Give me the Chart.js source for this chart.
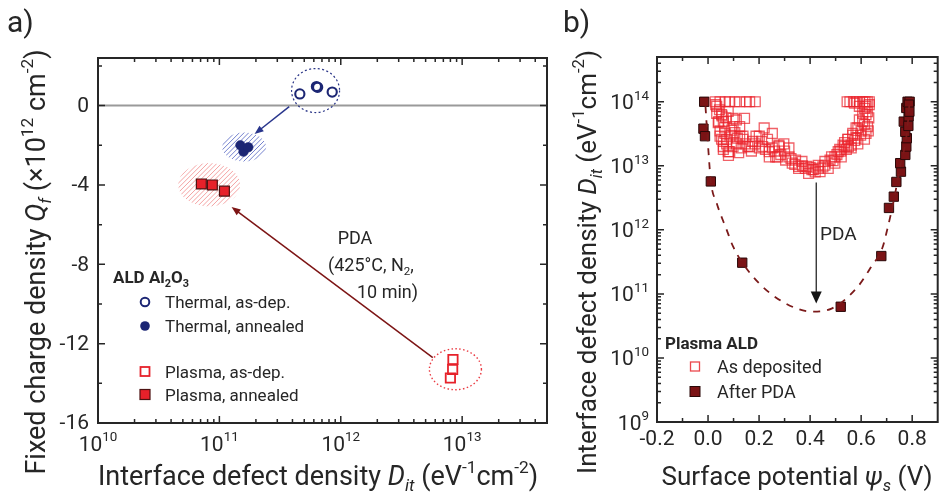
<!DOCTYPE html>
<html>
<head>
<meta charset="utf-8">
<script src="https://cdn.jsdelivr.net/npm/chart.js@4"></script>
<style>
  body { margin: 0; background: #fff; }
  #wrap { position: relative; width: 946px; height: 499px; }
  canvas { position: absolute; top: 0; }
</style>
</head>
<body>
<div id="wrap">
  <canvas id="chartA" width="560" height="499" style="left:0"></canvas>
  <canvas id="chartB" width="386" height="499" style="left:560px"></canvas>
</div>
<script>
// ---- panel a: fixed charge vs interface defect density ----
var thermalAsDepDit = [4.6e11, 6.3e11, 6.45e11, 8.5e11];
var thermalAsDepQf = [0.59, 0.96, 0.92, 0.68];
var thermalAnnDit = [1.58e11, 1.49e11, 1.73e11];
var thermalAnnQf = [-2.32, -2.0, -2.1];
var plasmaAsDepDit = [8.4e12, 8.35e12, 8.0e12];
var plasmaAsDepQf = [-12.8, -13.3, -13.73];
var plasmaAnnDit = [7.1e10, 8.75e10, 1.10e11];
var plasmaAnnQf = [-3.95, -4.0, -4.31];

var qfTicks = [0, -4, -8, -12, -16];
var qfMinor = [2, -2, -6, -10, -14];
var ditDecadesA = [10, 11, 12, 13];

// ---- panel b: Dit spectrum vs surface potential ----
var psiTicks = [-0.2, 0.0, 0.2, 0.4, 0.6, 0.8];
var psiMinor = [-0.1, 0.1, 0.3, 0.5, 0.7];
var ditDecadesB = [9, 10, 11, 12, 13, 14];

var asDepPsi = [0.028, 0.047, 0.068, 0.083, 0.105, 0.124, 0.150, 0.163, 0.185,
  0.545, 0.556, 0.570, 0.582, 0.594, 0.606, 0.615, 0.624, 0.632,
  0.034, 0.053, 0.040, 0.079, 0.098, 0.124, 0.047, 0.073, 0.060, 0.085, 0.111, 0.137, 0.156, 0.175,
  0.201, 0.214, 0.240, 0.265, 0.278, 0.304, 0.330, 0.355, 0.381, 0.407, 0.432, 0.458, 0.478, 0.497,
  0.516, 0.535, 0.548, 0.567, 0.580, 0.593, 0.606, 0.619, 0.625, 0.613, 0.587, 0.561, 0.619,
  0.034, 0.055, 0.042, 0.060, 0.047, 0.066, 0.053, 0.073, 0.060, 0.079, 0.098, 0.111, 0.143, 0.124,
  0.098, 0.137, 0.163, 0.188, 0.220, 0.201, 0.233, 0.252, 0.252, 0.278, 0.297, 0.240, 0.272, 0.317,
  0.317, 0.343, 0.368, 0.355, 0.387, 0.413, 0.394, 0.432, 0.439, 0.458, 0.471, 0.484, 0.497, 0.510,
  0.522, 0.529, 0.542, 0.548, 0.561, 0.567, 0.580, 0.587, 0.600, 0.606, 0.613, 0.619, 0.613, 0.593, 0.574,
  0.090, 0.115, 0.130, 0.145, 0.170, 0.185, 0.210, 0.225, 0.260, 0.285, 0.300, 0.325, 0.340, 0.370,
  0.400, 0.420, 0.450, 0.490, 0.505, 0.520, 0.535, 0.550, 0.575, 0.598, 0.628, 0.630, 0.625, 0.632,
  0.030, 0.045, 0.065, 0.070, 0.092, 0.105, 0.060, 0.120, 0.080];
var asDepDit = [1e14, 1e14, 1e14, 1e14, 1e14, 1e14, 1e14, 1e14, 1e14,
  1e14, 1e14, 1e14, 1e14, 1e14, 1e14, 1e14, 1e14, 1e14,
  8.5e13, 6.3e13, 4.7e13, 7.1e13, 5.5e13, 4.1e13, 2.9e13, 2.6e13, 2.0e13, 1.66e13, 2.2e13, 2.9e13, 2.0e13, 2.4e13,
  2.9e13, 2.0e13, 1.66e13, 1.38e13, 2.0e13, 1.23e13, 1.1e13, 9.8e12, 9.1e12, 8.7e12, 9.1e12, 1.02e13, 1.23e13, 1.38e13,
  1.8e13, 2.0e13, 2.6e13, 3.0e13, 3.9e13, 5.2e13, 6.6e13, 8.5e13, 4.1e13, 2.6e13, 2.2e13, 1.9e13, 3.2e13,
  6.6e13, 6.0e13, 4.9e13, 4.9e13, 3.5e13, 3.2e13, 2.6e13, 2.2e13, 1.8e13, 1.66e13, 4.1e13, 5.2e13, 5.5e13, 2.9e13,
  2.0e13, 2.6e13, 2.0e13, 2.9e13, 3.9e13, 1.9e13, 2.6e13, 3.2e13, 1.9e13, 2.1e13, 2.2e13, 1.38e13, 1.38e13, 1.9e13,
  1.38e13, 1.23e13, 1.17e13, 9.1e12, 9.8e12, 8.7e12, 7.6e12, 1.02e13, 8.1e12, 1.17e13, 9.1e12, 1.38e13, 1.1e13, 1.66e13,
  1.38e13, 2.1e13, 1.8e13, 2.6e13, 2.1e13, 3.2e13, 2.7e13, 3.9e13, 3.5e13, 4.9e13, 4.4e13, 6.3e13, 7.9e13, 8.5e13, 9.5e13,
  3.0e13, 2.7e13, 1.9e13, 2.2e13, 1.7e13, 2.2e13, 2.4e13, 1.8e13, 1.7e13, 1.5e13, 1.7e13, 1.3e13, 1.05e13, 1.0e13,
  9.5e12, 8.0e12, 9.6e12, 1.2e13, 1.5e13, 1.7e13, 2.3e13, 2.0e13, 2.5e13, 3.0e13, 3.5e13, 5.6e13, 7.0e13, 9.0e13,
  9.0e13, 7.5e13, 4.0e13, 5.6e13, 3.6e13, 3.3e13, 2.4e13, 1.6e13, 1.45e13];

var pdaPsi = [-0.015, -0.018, -0.012, 0.011, 0.134, 0.520, 0.679, 0.709, 0.728, 0.738, 0.756, 0.753,
  0.773, 0.777, 0.779, 0.773, 0.767, 0.786, 0.777, 0.782, 0.790, 0.787, 0.789, 0.785];
var pdaDit = [1e14, 3.8e13, 2.9e13, 5.7e12, 3.07e11, 6.3e10, 3.9e11, 2.2e12, 3.3e12, 5.6e12, 8.1e12, 1.1e13,
  1.48e13, 2.0e13, 2.7e13, 3.4e13, 4.9e13, 5.9e13, 8.0e13, 1e14, 1e14, 9e13, 7e13, 4.2e13];

var fitPsi = [-0.010, 0.002, 0.011, 0.034, 0.073, 0.098, 0.134, 0.201, 0.304, 0.407, 0.484, 0.587,
  0.638, 0.683, 0.702, 0.728, 0.753, 0.779, 0.790];
var fitDit = [8.5e13, 1.6e13, 5.7e12, 2.6e12, 1e12, 5.5e11, 3.1e11, 1.45e11, 7.1e10, 5.3e10, 5.9e10, 1.3e11,
  2.6e11, 5.2e11, 1e12, 2.9e12, 9.8e12, 3.2e13, 1e14];

function pts(xs, ys) {
  return xs.map(function(x, i) { return { x: x, y: ys[i] }; });
}

var FONT = 'Roboto';
var INK = '#262626';

// draws a run of text pieces; style: '' normal, 'i' italic, 'b' bold, 'sup', 'sub', 'isub'
function drawRich(ctx, parts, x, y, size, align, bold) {
  var segs = parts.map(function(p) {
    var s = p[1];
    var small = s === 'sup' || s === 'sub' || s === 'isub';
    var italic = s === 'i' || s === 'isub';
    var fs = small ? size * 0.64 : size;
    var font = (italic ? 'italic ' : '') + (bold || s === 'b' ? 'bold ' : '') + fs + 'px ' + FONT;
    ctx.font = font;
    var dy = s === 'sup' ? -size * 0.46 : (small ? size * 0.24 : 0);
    return { t: p[0], font: font, w: ctx.measureText(p[0]).width, dy: dy };
  });
  var total = segs.reduce(function(a, s) { return a + s.w; }, 0);
  var cx = align === 'center' ? x - total / 2 : (align === 'right' ? x - total : x);
  ctx.textAlign = 'left';
  ctx.textBaseline = 'alphabetic';
  segs.forEach(function(s) {
    ctx.font = s.font;
    ctx.fillText(s.t, cx, y + s.dy);
    cx += s.w;
  });
}

function drawRotated(ctx, parts, x, y, size) {
  ctx.save();
  ctx.translate(x, y);
  ctx.rotate(-Math.PI / 2);
  drawRich(ctx, parts, 0, 0, size, 'center');
  ctx.restore();
}

function logMinor(decades, maxVal) {
  var out = [];
  decades.forEach(function(d) {
    for (var m = 2; m <= 9; m++) {
      var v = m * Math.pow(10, d);
      if (v < maxVal) out.push(v);
    }
  });
  return out;
}

function frameAndTicks(chart, xMajor, xMinor, yMajor, yMinor) {
  var ctx = chart.ctx, a = chart.chartArea;
  var xs = chart.scales.x, ys = chart.scales.y;
  ctx.save();
  ctx.strokeStyle = INK;
  ctx.lineWidth = 1.5;
  ctx.beginPath();
  function xt(v, len) {
    var p = xs.getPixelForValue(v);
    ctx.moveTo(p, a.bottom); ctx.lineTo(p, a.bottom - len);
    ctx.moveTo(p, a.top); ctx.lineTo(p, a.top + len);
  }
  function yt(v, len) {
    var p = ys.getPixelForValue(v);
    ctx.moveTo(a.left, p); ctx.lineTo(a.left + len, p);
    ctx.moveTo(a.right, p); ctx.lineTo(a.right - len, p);
  }
  xMajor.forEach(function(v) { xt(v, 7); });
  xMinor.forEach(function(v) { xt(v, 4); });
  yMajor.forEach(function(v) { yt(v, 7); });
  yMinor.forEach(function(v) { yt(v, 4); });
  ctx.stroke();
  ctx.lineWidth = 2;
  ctx.strokeRect(a.left, a.top, a.right - a.left, a.bottom - a.top);
  ctx.restore();
}

function arrow(ctx, x0, y0, x1, y1, color, width, headLen, headHalf) {
  var ang = Math.atan2(y1 - y0, x1 - x0);
  ctx.save();
  ctx.strokeStyle = color;
  ctx.fillStyle = color;
  ctx.lineWidth = width;
  ctx.beginPath();
  ctx.moveTo(x0, y0);
  ctx.lineTo(x1 - Math.cos(ang) * headLen * 0.8, y1 - Math.sin(ang) * headLen * 0.8);
  ctx.stroke();
  ctx.translate(x1, y1);
  ctx.rotate(ang);
  ctx.beginPath();
  ctx.moveTo(0, 0);
  ctx.lineTo(-headLen, -headHalf);
  ctx.lineTo(-headLen, headHalf);
  ctx.closePath();
  ctx.fill();
  ctx.restore();
}

function hatchEllipse(ctx, cx, cy, rx, ry, color) {
  ctx.save();
  ctx.beginPath();
  ctx.ellipse(cx, cy, rx, ry, 0, 0, Math.PI * 2);
  ctx.clip();
  ctx.strokeStyle = color;
  ctx.lineWidth = 1;
  ctx.beginPath();
  var R = Math.max(rx, ry) + 4;
  for (var k = -2 * R; k <= 2 * R; k += 4.7) {
    ctx.moveTo(cx + k - R, cy + R);
    ctx.lineTo(cx + k + R, cy - R);
  }
  ctx.stroke();
  ctx.restore();
}

function dashedEllipse(ctx, cx, cy, rx, ry, color, dash, width) {
  ctx.save();
  ctx.strokeStyle = color;
  ctx.lineWidth = width;
  ctx.setLineDash(dash);
  ctx.beginPath();
  ctx.ellipse(cx, cy, rx, ry, 0, 0, Math.PI * 2);
  ctx.stroke();
  ctx.restore();
}

var NAVY = '#1c2674';
var RED = '#e6212a';
var DARKRED = '#7b1315';

var panelA = {
  id: 'panelA',
  beforeDatasetsDraw: function(chart) {
    var ctx = chart.ctx, a = chart.chartArea;
    var xs = chart.scales.x, ys = chart.scales.y;
    function X(v) { return xs.getPixelForValue(v); }
    function Y(v) { return ys.getPixelForValue(v); }
    // zero charge line
    ctx.save();
    ctx.strokeStyle = '#9a9a9a';
    ctx.lineWidth = 2;
    ctx.beginPath();
    ctx.moveTo(a.left, Y(0));
    ctx.lineTo(a.right, Y(0));
    ctx.stroke();
    ctx.restore();
    // groups of samples
    hatchEllipse(ctx, X(1.6e11), Y(-2.09), 22, 14.5, 'rgba(70,88,190,0.75)');
    hatchEllipse(ctx, X(8.24e10), Y(-3.99), 31, 21.7, 'rgba(236,100,100,0.6)');
    dashedEllipse(ctx, X(6.2e11), Y(0.76), 24, 22, '#2b3688', [2, 2.4], 1.2);
    dashedEllipse(ctx, X(8.8e12), Y(-13.29), 26, 20.5, '#ea3a42', [1.5, 2.4], 1.4);
    // annealing arrows
    arrow(ctx, X(3.76e11), Y(-0.05), X(1.95e11), Y(-1.43), '#28358c', 1.5, 9, 3.5);
    arrow(ctx, X(5.73e12), Y(-12.7), X(1.26e11), Y(-5.11), '#7d1515', 1.5, 9, 3.5);
  },
  afterDatasetsDraw: function(chart) {
    var ctx = chart.ctx;
    var xs = chart.scales.x, ys = chart.scales.y;
    var xMajor = ditDecadesA.map(function(d) { return Math.pow(10, d); });
    frameAndTicks(chart, xMajor, logMinor(ditDecadesA, 5e13), qfTicks, qfMinor);
    ctx.save();
    ctx.fillStyle = INK;
    // tick labels
    ctx.font = '21px ' + FONT;
    ctx.textAlign = 'right';
    ctx.textBaseline = 'middle';
    qfTicks.forEach(function(v) { ctx.fillText(String(v), 89, ys.getPixelForValue(v) + 1); });
    ditDecadesA.forEach(function(d) {
      drawRich(ctx, [['10', ''], [String(d), 'sup']], xs.getPixelForValue(Math.pow(10, d)), 451, 21, 'center');
    });
    // axis titles
    drawRich(ctx, [['Interface defect density ', ''], ['D', 'i'], ['it', 'isub'], [' (eV', ''], ['-1', 'sup'],
      ['cm', ''], ['-2', 'sup'], [')', '']], 318, 485, 27, 'center');
    drawRotated(ctx, [['Fixed charge density ', ''], ['Q', 'i'], ['f', 'isub'], [' (\u00d710', ''], ['12', 'sup'],
      [' cm', ''], ['-2', 'sup'], [')', '']], 45, 262, 27);
    // panel letter
    ctx.font = '30px ' + FONT;
    ctx.textAlign = 'left';
    ctx.textBaseline = 'alphabetic';
    ctx.fillText('a)', 7, 32);
    // annealing note
    drawRich(ctx, [['PDA', '']], 355, 244, 18, 'center');
    drawRich(ctx, [['(425\u00b0C, N', ''], ['2', 'sub'], [',', '']], 328, 271, 18, 'left');
    drawRich(ctx, [['10 min)', '']], 357, 298, 18, 'left');
    // legend
    drawRich(ctx, [['ALD Al', 'b'], ['2', 'sub'], ['O', 'b'], ['3', 'sub']], 113, 283, 17, 'left', true);
    var lx = 145;
    ctx.strokeStyle = NAVY; ctx.lineWidth = 2;
    ctx.beginPath(); ctx.arc(lx, 302, 4.3, 0, Math.PI * 2); ctx.stroke();
    ctx.fillStyle = NAVY;
    ctx.beginPath(); ctx.arc(lx, 326, 4.8, 0, Math.PI * 2); ctx.fill();
    ctx.strokeStyle = RED; ctx.lineWidth = 1.8;
    ctx.strokeRect(lx - 4.5, 371.5 - 4.5, 9, 9);
    ctx.fillStyle = RED; ctx.fillRect(lx - 5, 394.5 - 5, 10, 10);
    ctx.strokeStyle = '#4d1212'; ctx.lineWidth = 1.2; ctx.strokeRect(lx - 5, 394.5 - 5, 10, 10);
    ctx.fillStyle = INK;
    drawRich(ctx, [['Thermal, as-dep.', '']], 165, 308, 17, 'left');
    drawRich(ctx, [['Thermal, annealed', '']], 165, 332, 17, 'left');
    drawRich(ctx, [['Plasma, as-dep.', '']], 165, 378, 17, 'left');
    drawRich(ctx, [['Plasma, annealed', '']], 165, 401, 17, 'left');
    ctx.restore();
  }
};

var panelB = {
  id: 'panelB',
  afterDatasetsDraw: function(chart) {
    var ctx = chart.ctx;
    var xs = chart.scales.x, ys = chart.scales.y;
    var yMajor = ditDecadesB.map(function(d) { return Math.pow(10, d); });
    frameAndTicks(chart, psiTicks, psiMinor, yMajor, logMinor(ditDecadesB, 5e14));
    // PDA arrow
    arrow(ctx, xs.getPixelForValue(0.424), ys.getPixelForValue(5.5e12),
      xs.getPixelForValue(0.424), ys.getPixelForValue(7.1e10), '#151515', 1.2, 12, 5.5);
    ctx.save();
    ctx.fillStyle = INK;
    ctx.font = '21px ' + FONT;
    ctx.textAlign = 'center';
    ctx.textBaseline = 'alphabetic';
    psiTicks.forEach(function(v) { ctx.fillText(v.toFixed(1), xs.getPixelForValue(v), 445); });
    ditDecadesB.forEach(function(d) {
      drawRich(ctx, [['10', ''], [String(d), 'sup']], 89, ys.getPixelForValue(Math.pow(10, d)) + 7.5, 21, 'right');
    });
    drawRich(ctx, [['Surface potential ', ''], ['\u03c8', 'i'], ['s', 'isub'], [' (V)', '']], 237, 485, 26, 'center');
    drawRotated(ctx, [['Interface defect density ', ''], ['D', 'i'], ['it', 'isub'], [' (eV', ''], ['-1', 'sup'],
      ['cm', ''], ['-2', 'sup'], [')', '']], 36, 262, 26);
    ctx.font = '30px ' + FONT;
    ctx.textAlign = 'left';
    ctx.fillText('b)', 3, 32);
    drawRich(ctx, [['PDA', '']], 260, 240, 19, 'left');
    // legend
    drawRich(ctx, [['Plasma ALD', 'b']], 105, 349, 17, 'left', true);
    ctx.strokeStyle = 'rgba(232,40,46,0.85)'; ctx.lineWidth = 1.3;
    ctx.strokeRect(135 - 4.5, 366.5 - 4.5, 9, 9);
    ctx.fillStyle = DARKRED; ctx.fillRect(135 - 5, 391.5 - 5, 10, 10);
    ctx.strokeStyle = '#2a0808'; ctx.lineWidth = 1; ctx.strokeRect(135 - 5, 391.5 - 5, 10, 10);
    ctx.fillStyle = INK;
    drawRich(ctx, [['As deposited', '']], 157, 373, 18, 'left');
    drawRich(ctx, [['After PDA', '']], 157, 398, 18, 'left');
    ctx.restore();
  }
};

function hiddenScale(extra, fitFn) {
  return Object.assign({
    ticks: { display: false },
    grid: { display: false },
    border: { display: false },
    afterFit: fitFn
  }, extra);
}

var chartA = new Chart(document.getElementById('chartA'), {
  type: 'scatter',
  data: {
    datasets: [
      { data: pts(plasmaAnnDit, plasmaAnnQf), pointStyle: 'rect', pointRadius: 7, backgroundColor: RED,
        borderColor: '#4d1212', borderWidth: 1.2 },
      { data: pts(plasmaAsDepDit, plasmaAsDepQf), pointStyle: 'rect', pointRadius: 6.6, backgroundColor: 'rgba(255,255,255,0)',
        borderColor: RED, borderWidth: 1.8 },
      { data: pts(thermalAnnDit, thermalAnnQf), pointStyle: 'circle', pointRadius: 4.8, backgroundColor: NAVY,
        borderColor: NAVY, borderWidth: 0.5 },
      { data: pts(thermalAsDepDit, thermalAsDepQf), pointStyle: 'circle', pointRadius: 4.6, backgroundColor: 'rgba(255,255,255,0)',
        borderColor: NAVY, borderWidth: 2.1 }
    ]
  },
  options: {
    responsive: false,
    animation: false,
    devicePixelRatio: 1,
    layout: { padding: { top: 58, right: 13, left: 0, bottom: 0 } },
    plugins: { legend: { display: false }, tooltip: { enabled: false } },
    scales: {
      x: hiddenScale({ type: 'logarithmic', min: 1e10, max: 5e13 }, function(s) { s.height = 76; }),
      y: hiddenScale({ type: 'linear', min: -16, max: 2.4 }, function(s) { s.width = 98; })
    }
  },
  plugins: [panelA]
});

var chartB = new Chart(document.getElementById('chartB'), {
  type: 'scatter',
  data: {
    datasets: [
      { data: pts(fitPsi, fitDit), showLine: true, pointRadius: 0, borderColor: '#7b1a1a', borderWidth: 1.8,
        borderDash: [7, 7], tension: 0.4, cubicInterpolationMode: 'monotone', fill: false },
      { data: pts(asDepPsi, asDepDit), pointStyle: 'rect', pointRadius: 7, backgroundColor: 'rgba(255,255,255,0)',
        borderColor: 'rgba(234,36,44,0.72)', borderWidth: 1.3 },
      { data: pts(pdaPsi, pdaDit), pointStyle: 'rect', pointRadius: 6.6, backgroundColor: DARKRED,
        borderColor: '#2a0808', borderWidth: 1 }
    ]
  },
  options: {
    responsive: false,
    animation: false,
    devicePixelRatio: 1,
    layout: { padding: { top: 57, right: 4, left: 0, bottom: 0 } },
    plugins: { legend: { display: false }, tooltip: { enabled: false } },
    scales: {
      x: hiddenScale({ type: 'linear', min: -0.2, max: 0.9 }, function(s) { s.height = 77; }),
      y: hiddenScale({ type: 'logarithmic', min: 1e9, max: 5e14 }, function(s) { s.width = 97; })
    }
  },
  plugins: [panelB]
});
</script>
</body>
</html>
